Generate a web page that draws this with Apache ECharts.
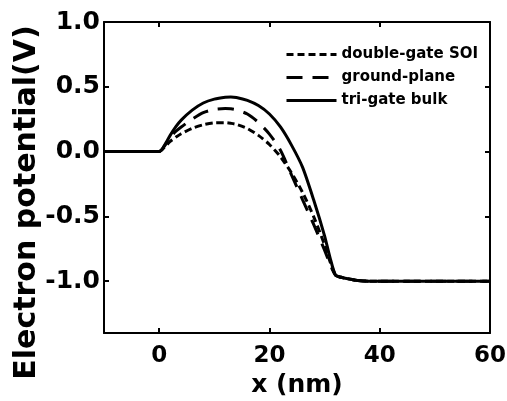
<!DOCTYPE html>
<html>
<head>
<meta charset="utf-8">
<script src="https://cdn.jsdelivr.net/npm/echarts@6/dist/echarts.min.js"></script>
<style>html,body{margin:0;padding:0;background:#fff;}#c{width:507px;height:401px;}</style>
</head>
<body>
<div id="c"></div>
<script>
// Data
var X = [-10, 0, 1, 2, 3, 4, 6, 8, 10, 12, 13, 14, 16, 18, 20, 22, 24, 26, 28, 30, 31, 32, 33, 34, 36, 38, 60];
var triGateBulk = [0, 0, 0.05, 0.125, 0.19, 0.243, 0.32, 0.375, 0.405, 0.42, 0.422, 0.418, 0.395, 0.355, 0.29, 0.19, 0.05, -0.12, -0.37, -0.65, -0.82, -0.955, -0.97, -0.98, -0.995, -1.0, -1.0];
var groundPlane = [0, 0, 0.045, 0.11, 0.155, 0.19, 0.25, 0.30, 0.325, 0.332, 0.33, 0.322, 0.29, 0.225, 0.135, 0.01, -0.18, -0.37, -0.56, -0.76, -0.87, -0.955, -0.97, -0.98, -0.995, -1.0, -1.0];
var doubleGateSOI = [0, 0, 0.035, 0.078, 0.11, 0.138, 0.18, 0.207, 0.222, 0.223, 0.218, 0.21, 0.178, 0.125, 0.055, -0.04, -0.165, -0.315, -0.5, -0.72, -0.85, -0.955, -0.97, -0.98, -0.995, -1.0, -1.0];
var xTicks = [0, 20, 40, 60];
var yTicks = [-1.0, -0.5, 0.0, 0.5, 1.0];
var seriesNames = ['double-gate SOI', 'ground-plane', 'tri-gate bulk'];

function pairs(ys) { return X.map(function (x, i) { return [x, ys[i]]; }); }

var FONT = 'DejaVu Sans';
var chart = echarts.init(document.getElementById('c'), null, { renderer: 'canvas' });

function axisCommon(extra) {
  return Object.assign({
    type: 'value',
    axisLine: { show: true, onZero: false, lineStyle: { color: '#000', width: 2 } },
    axisTick: { show: true, inside: true, length: 5, lineStyle: { color: '#000', width: 2 } },
    splitLine: { show: false }
  }, extra);
}

var option = {
  animation: false,
  backgroundColor: '#fff',
  grid: { left: 104, right: 17, top: 22, bottom: 68, containLabel: false, outerBoundsMode: 'none' },
  legend: {
    orient: 'vertical',
    left: 285,
    top: 47,
    padding: 0,
    itemWidth: 50,
    itemHeight: 14,
    itemGap: 8,
    data: seriesNames,
    itemStyle: { opacity: 0 },
    lineStyle: { width: 3 },
    textStyle: { fontFamily: FONT, fontWeight: 'bold', fontSize: 15, color: '#000', lineHeight: 14 }
  },
  xAxis: [
    axisCommon({
      min: -10, max: 60, position: 'bottom',
      name: 'x (nm)', nameLocation: 'middle', nameGap: 40, nameMoveOverlap: false,
      nameTextStyle: { fontFamily: FONT, fontWeight: 'bold', fontSize: 25, color: '#000' },
      axisTick: { show: true, inside: true, length: 5, customValues: xTicks, lineStyle: { color: '#000', width: 2 } },
      axisLabel: { customValues: xTicks, margin: 12, fontFamily: FONT, fontWeight: 'bold', fontSize: 23, color: '#000' }
    }),
    axisCommon({
      min: -10, max: 60, position: 'top',
      axisTick: { show: true, inside: true, length: 5, customValues: xTicks, lineStyle: { color: '#000', width: 2 } },
      axisLabel: { show: false }
    })
  ],
  yAxis: [
    axisCommon({
      min: -1.4, max: 1.0, position: 'left',
      name: 'Electron potential(V)', nameLocation: 'middle', nameGap: 62, nameRotate: 90, nameMoveOverlap: false,
      nameTextStyle: { fontFamily: FONT, fontWeight: 'bold', fontSize: 30, color: '#000', padding: [0, 50, 0, 0] },
      axisTick: { show: true, inside: true, length: 5, customValues: yTicks, lineStyle: { color: '#000', width: 2 } },
      axisLabel: {
        customValues: yTicks, margin: 4, fontFamily: FONT, fontWeight: 'bold', fontSize: 25, color: '#000',
        formatter: function (v) { return Number(v).toFixed(1); }
      }
    }),
    axisCommon({
      min: -1.4, max: 1.0, position: 'right',
      axisTick: { show: true, inside: true, length: 5, customValues: yTicks, lineStyle: { color: '#000', width: 2 } },
      axisLabel: { show: false }
    })
  ],
  series: [
    {
      name: seriesNames[0], type: 'line', data: pairs(doubleGateSOI), showSymbol: false, symbol: 'none',
      smooth: 0.25, lineStyle: { color: '#000', width: 3, type: [7, 4] }, itemStyle: { color: '#000' }
    },
    {
      name: seriesNames[1], type: 'line', data: pairs(groundPlane), showSymbol: false, symbol: 'none',
      smooth: 0.25, lineStyle: { color: '#000', width: 3, type: [16, 10] }, itemStyle: { color: '#000' }
    },
    {
      name: seriesNames[2], type: 'line', data: pairs(triGateBulk), showSymbol: false, symbol: 'none',
      smooth: 0.25, lineStyle: { color: '#000', width: 3, type: 'solid' }, itemStyle: { color: '#000' }
    }
  ]
};
chart.setOption(option);
</script>
</body>
</html>
